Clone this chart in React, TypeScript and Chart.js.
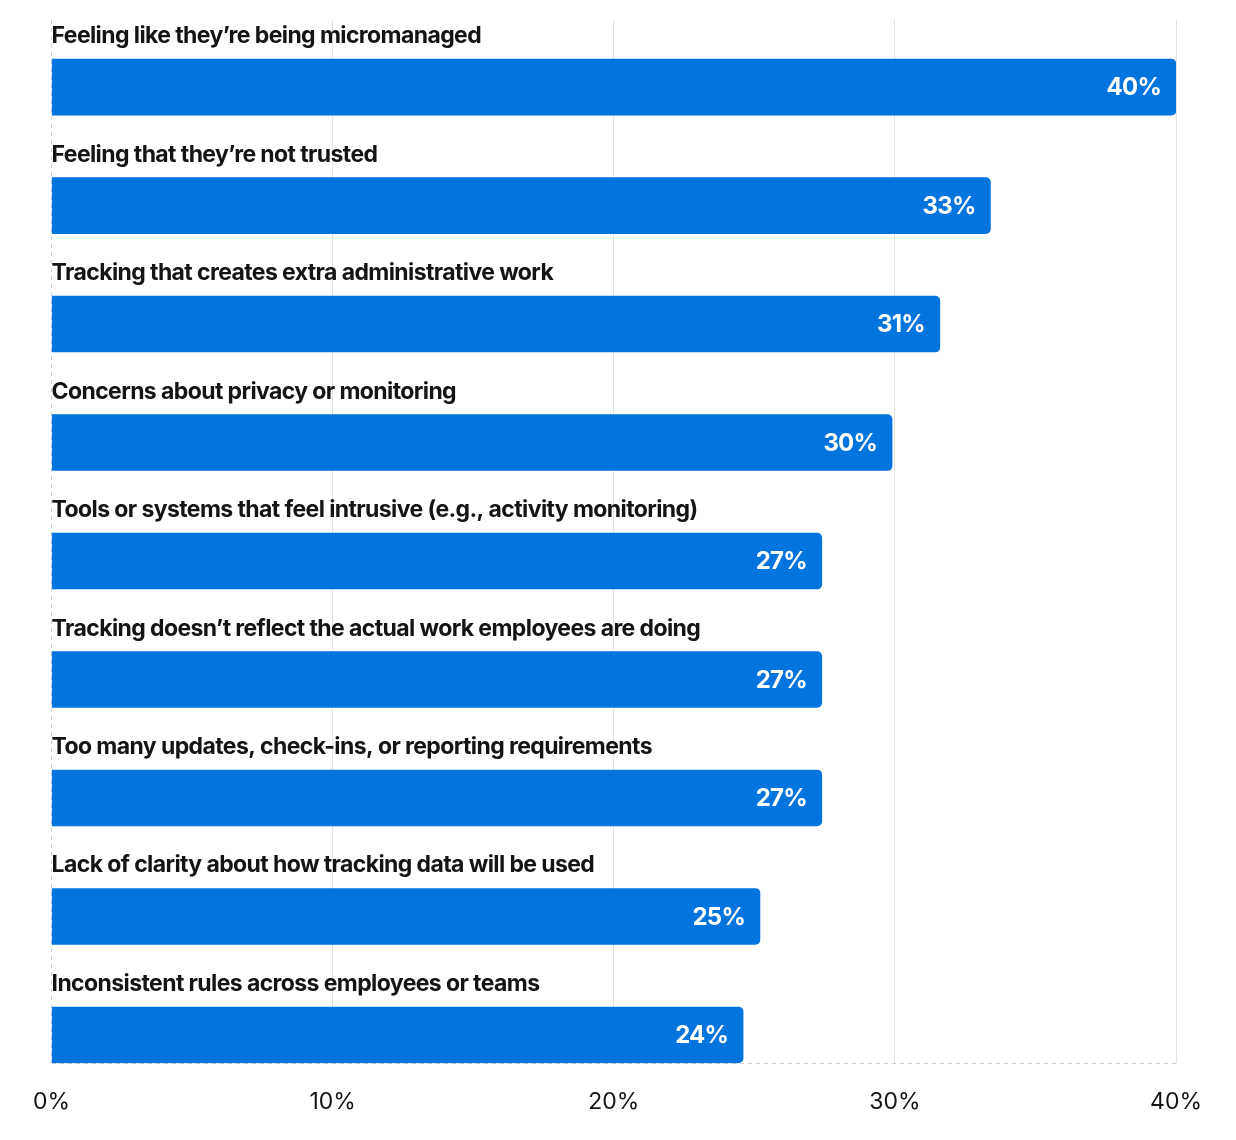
import React, { useEffect, useRef } from "react";
import { Chart, registerables } from "chart.js";

Chart.register(...registerables);

const categories: string[] = [
  "Feeling like they’re being micromanaged",
  "Feeling that they’re not trusted",
  "Tracking that creates extra administrative work",
  "Concerns about privacy or monitoring",
  "Tools or systems that feel intrusive (e.g., activity monitoring)",
  "Tracking doesn’t reflect the actual work employees are doing",
  "Too many updates, check-ins, or reporting requirements",
  "Lack of clarity about how tracking data will be used",
  "Inconsistent rules across employees or teams",
];

const values: number[] = [40, 33.4, 31.6, 29.9, 27.4, 27.4, 27.4, 25.2, 24.6];
const valueLabels: string[] = ["40%", "33%", "31%", "30%", "27%", "27%", "27%", "25%", "24%"];
const xTicks: number[] = [0, 10, 20, 30, 40];

const BAR_COLOR = "#0274DE";
const TEXT_COLOR = "#141414";
const FONT = "Inter, 'Noto Sans', sans-serif";
const Y_MIN = -0.566;
const Y_MAX = 8.24;

const labelPlugin = {
  id: "barLabels",
  afterDatasetsDraw(chart: any) {
    const ctx = chart.ctx as CanvasRenderingContext2D;
    const meta = chart.getDatasetMeta(0);
    const area = chart.chartArea;
    ctx.save();
    meta.data.forEach((bar: any, i: number) => {
      const top = bar.y - bar.height / 2;
      ctx.font = `700 23px ${FONT}`;
      (ctx as any).letterSpacing = "-0.6px";
      ctx.fillStyle = TEXT_COLOR;
      ctx.textAlign = "left";
      ctx.textBaseline = "alphabetic";
      ctx.fillText(categories[i], area.left, top - 16);
      ctx.font = `700 24px ${FONT}`;
      (ctx as any).letterSpacing = "-0.8px";
      ctx.fillStyle = "#ffffff";
      ctx.textAlign = "right";
      ctx.textBaseline = "middle";
      ctx.fillText(valueLabels[i], bar.x - 15, bar.y + 1);
    });
    ctx.restore();
  },
};

export default function App() {
  const canvasRef = useRef<HTMLCanvasElement | null>(null);

  useEffect(() => {
    if (!canvasRef.current) return;
    const chart = new Chart(canvasRef.current, {
      type: "bar",
      data: {
        datasets: [
          {
            data: values.map((v, i) => ({ x: v, y: i })),
            backgroundColor: BAR_COLOR,
            borderRadius: 5,
            borderSkipped: "start",
            barThickness: 56,
          },
        ],
      },
      options: {
        indexAxis: "y",
        animation: false,
        responsive: false,
        maintainAspectRatio: false,
        layout: { padding: { left: 43, right: 52, top: 12, bottom: 0 } },
        plugins: {
          legend: { display: false },
          tooltip: { enabled: false },
        },
        scales: {
          x: {
            type: "linear",
            min: 0,
            max: 40,
            afterBuildTicks: (scale: any) => {
              scale.ticks = xTicks.map((v) => ({ value: v }));
            },
            ticks: {
              callback: (v: any) => `${v}%`,
              color: TEXT_COLOR,
              font: { family: FONT, size: 23, weight: "400" },
              padding: 25,
              maxRotation: 0,
            },
            grid: {
              drawTicks: false,
              color: (c: any) => (c.tick && c.tick.value === 0 ? "#cfcfcf" : "#e2e2e2"),
              lineWidth: 1,
            },
            border: {
              display: false,
              dash: (c: any) => (c.tick && c.tick.value === 0 ? [4, 4] : []),
            },
          },
          y: {
            type: "linear",
            reverse: true,
            offset: false,
            min: Y_MIN,
            max: Y_MAX,
            afterBuildTicks: (scale: any) => {
              scale.ticks = [{ value: Y_MAX }];
            },
            ticks: { display: false },
            grid: { display: true, offset: false, drawTicks: false, color: "#cfcfcf", lineWidth: 1 },
            border: { display: false, dash: [4, 4] },
          },
        },
      },
      plugins: [labelPlugin],
    });
    return () => chart.destroy();
  }, []);

  return (
    <div style={{ width: 1220, height: 1124, overflow: "hidden" }}>
      <canvas ref={canvasRef} width={1220} height={1133} style={{ display: "block" }} />
    </div>
  );
}
